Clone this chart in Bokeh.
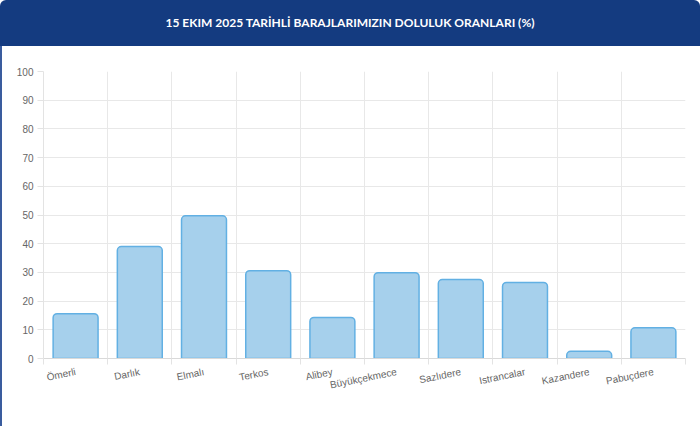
from bokeh.plotting import figure
from bokeh.models import Div, FixedTicker, Range1d, ColumnDataSource
from bokeh.layouts import column
from bokeh.embed import file_html
from bokeh.resources import INLINE

title = "15 EKIM 2025 TARİHLİ BARAJLARIMIZIN DOLULUK ORANLARI (%)"
dams = ["Ömerli", "Darlık", "Elmalı", "Terkos", "Alibey", "Büyükçekmece",
        "Sazlıdere", "Istrancalar", "Kazandere", "Pabuçdere"]
rates = [15.6, 39.0, 49.7, 30.6, 14.3, 29.9, 27.5, 26.5, 2.5, 10.7]
y_ticks = [0, 10, 20, 30, 40, 50, 60, 70, 80, 90, 100]

pos = [i + 0.5 for i in range(len(dams))]
src = ColumnDataSource(dict(x=pos, y=rates, name=dams))

header = Div(text=title, width=700, height=46, margin=0,
             styles={"background-color": "#143b80", "color": "white",
                     "font-family": "Lato", "font-weight": "bold",
                     "font-size": "12px", "text-align": "center",
                     "line-height": "46px", "border-radius": "6px 6px 0 0"})

p = figure(width=698, height=380, output_backend="svg", toolbar_location=None,
           x_range=Range1d(0, len(dams)), y_range=Range1d(0, 100),
           min_border_left=41, min_border_right=15, min_border_top=25,
           min_border_bottom=68, margin=0,
           styles={"border-left": "2px solid #3a5c9e"})
p.outline_line_color = None
p.vbar(x="x", top="y", width=0.7, source=src, fill_color="#a6d0ec",
       line_color="#62b0e3", line_width=1.5, border_radius=(4, 4, 0, 0))

p.xaxis.ticker = FixedTicker(ticks=pos, minor_ticks=list(range(len(dams) + 1)))
p.xaxis.major_label_overrides = {x: n for x, n in zip(pos, dams)}
p.xaxis.major_tick_line_color = None
p.xaxis.minor_tick_line_color = "#e3e3e3"
p.xaxis.minor_tick_out = 6
p.xaxis.minor_tick_in = 0
p.xaxis.axis_line_color = "#d9d9d9"
p.xaxis.major_label_orientation = 0.2
p.xaxis.major_label_text_font = "Liberation Sans"
p.xaxis.major_label_text_font_size = "10px"
p.xaxis.major_label_text_color = "#666666"
p.xaxis.major_label_standoff = 7
p.xgrid.ticker = FixedTicker(ticks=list(range(len(dams) + 1)))
p.xgrid.grid_line_color = "#e8e8e8"

p.yaxis.ticker = FixedTicker(ticks=y_ticks)
p.yaxis.axis_line_color = "#e3e3e3"
p.yaxis.major_tick_line_color = "#e3e3e3"
p.yaxis.major_tick_out = 6
p.yaxis.major_tick_in = 0
p.yaxis.minor_tick_line_color = None
p.yaxis.major_label_text_font = "Liberation Sans"
p.yaxis.major_label_text_font_size = "10px"
p.yaxis.major_label_text_color = "#666666"
p.yaxis.major_label_standoff = 4
p.ygrid.grid_line_color = "#e8e8e8"

layout = column(header, p, spacing=0, margin=0)

open("out.html", "w").write(file_html(layout, INLINE))
